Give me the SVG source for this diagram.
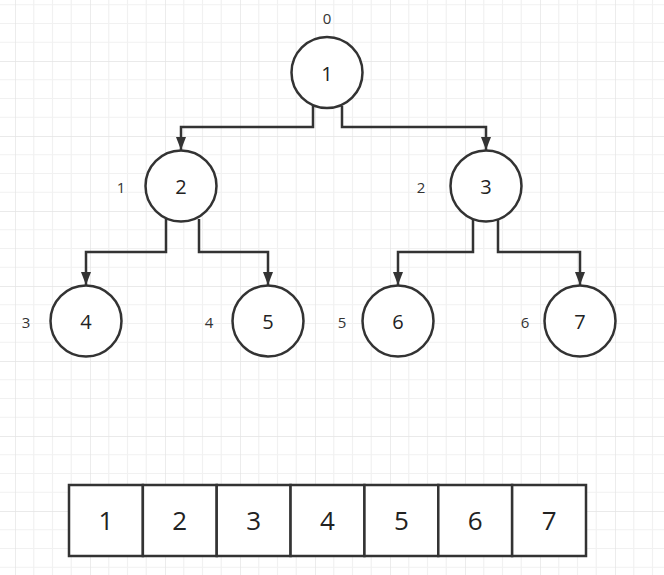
<svg xmlns="http://www.w3.org/2000/svg" width="664" height="575" viewBox="0 0 664 575">
<style>
.node circle{fill:#fff;stroke:#333;stroke-width:2.5}
.val{font-family:"Open Sans","Liberation Sans",sans-serif;font-size:20px;fill:#222;text-anchor:middle}
.idx{font-family:"Open Sans","Liberation Sans",sans-serif;font-size:15px;fill:#333;text-anchor:middle}
.arr{font-family:"Open Sans","Liberation Sans",sans-serif;font-size:26px;fill:#222;text-anchor:middle}
.edge{fill:none;stroke:#333;stroke-width:2.5;marker-end:url(#ah)}
.cell{fill:#fff;stroke:#333;stroke-width:2.5}
</style>
<defs>
<pattern id="grid" x="15" y="-14" width="75" height="75" patternUnits="userSpaceOnUse">
<path d="M18.75 0V75M37.5 0V75M56.25 0V75M0 18.75H75M0 37.5H75M0 56.25H75" stroke="#f1f1f1" stroke-width="1.2" fill="none"/>
<path d="M0 0V75M0 0H75" stroke="#e4e4e4" stroke-width="1.4" fill="none"/>
</pattern>
<marker id="ah" viewBox="0 0 13 10" refX="13" refY="5" markerWidth="13" markerHeight="10" markerUnits="userSpaceOnUse" orient="auto">
<path d="M0 0L13 5L0 10Z" fill="#333"/>
</marker>
</defs>
<rect width="664" height="575" fill="#fff"/>
<rect width="664" height="575" fill="url(#grid)"/>
<g id="connectors">
<polyline class="edge" points="313,106 313,127 181,127 181,150"/>
<polyline class="edge" points="342,106 342,127 486,127 486,150"/>
<polyline class="edge" points="166,219 166,252 86,252 86,285"/>
<polyline class="edge" points="199,219 199,252 268,252 268,285"/>
<polyline class="edge" points="473,219 473,252 398,252 398,285"/>
<polyline class="edge" points="498,219 498,252 580,252 580,285"/>
</g>
<g id="node0" class="node"><circle cx="327" cy="72.5" r="35.5"/><text class="val" x="327" y="81">1</text><text class="idx" x="327" y="24">0</text></g>
<g id="node1" class="node"><circle cx="181" cy="186" r="35.5"/><text class="val" x="181" y="194">2</text><text class="idx" x="121" y="193">1</text></g>
<g id="node2" class="node"><circle cx="486" cy="186" r="35.5"/><text class="val" x="486" y="194">3</text><text class="idx" x="421" y="193">2</text></g>
<g id="node3" class="node"><circle cx="86" cy="321" r="35.5"/><text class="val" x="86" y="329">4</text><text class="idx" x="26" y="328">3</text></g>
<g id="node4" class="node"><circle cx="268" cy="321" r="35.5"/><text class="val" x="268" y="329">5</text><text class="idx" x="209" y="328">4</text></g>
<g id="node5" class="node"><circle cx="398" cy="321" r="35.5"/><text class="val" x="398" y="329">6</text><text class="idx" x="342" y="328">5</text></g>
<g id="node6" class="node"><circle cx="580" cy="321" r="35.5"/><text class="val" x="580" y="329">7</text><text class="idx" x="525" y="328">6</text></g>
<g id="array">
<rect class="cell" x="69" y="485" width="73.86" height="71"/>
<rect class="cell" x="142.86" y="485" width="73.86" height="71"/>
<rect class="cell" x="216.71" y="485" width="73.86" height="71"/>
<rect class="cell" x="290.57" y="485" width="73.86" height="71"/>
<rect class="cell" x="364.43" y="485" width="73.86" height="71"/>
<rect class="cell" x="438.29" y="485" width="73.86" height="71"/>
<rect class="cell" x="512.14" y="485" width="73.86" height="71"/>
<text class="arr" x="105.9" y="530">1</text>
<text class="arr" x="179.8" y="530">2</text>
<text class="arr" x="253.6" y="530">3</text>
<text class="arr" x="327.5" y="530">4</text>
<text class="arr" x="401.4" y="530">5</text>
<text class="arr" x="475.2" y="530">6</text>
<text class="arr" x="549.1" y="530">7</text>
</g>
</svg>
